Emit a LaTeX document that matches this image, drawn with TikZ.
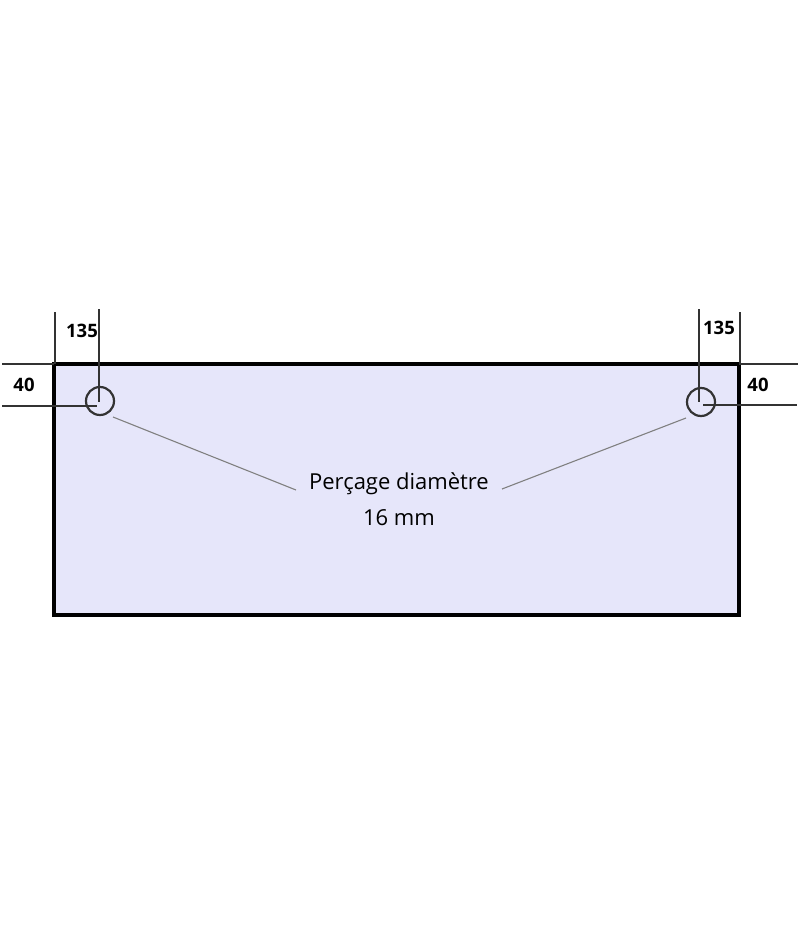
\documentclass[tikz,border=0pt]{standalone}
\usepackage{fontspec}
\setmainfont{Open Sans}
\begin{document}
\begin{tikzpicture}[x=1pt,y=-1pt,
  plate/.style={draw=black,line width=3.2pt,fill=lavfill},
  dimline/.style={draw=linegray,line width=2.2pt},
  hole/.style={draw=linegray,line width=2.2pt},
  leader/.style={draw=leadgray,line width=1.1pt},
  dimlabel/.style={font=\bfseries\fontsize{18.5}{20}\selectfont,text=black,inner sep=0pt},
  notelabel/.style={font=\fontsize{22}{36}\selectfont,text=black,align=center,inner sep=0pt}]
\definecolor{lavfill}{HTML}{E6E6FA}
\definecolor{linegray}{HTML}{333333}
\definecolor{leadgray}{HTML}{808080}
\useasboundingbox (0,0) rectangle (800,926);
\fill[white] (0,0) rectangle (800,926);
% plate
\draw[plate] (54,364) coordinate (pTL) rectangle (739,615) coordinate (pBR);
% holes
\draw[hole] (100,401) circle[radius=14];
\draw[hole] (701,402) circle[radius=14];
\coordinate (hL) at (100,401);
\coordinate (hR) at (701,402);
% left dimension lines
\coordinate (lv1) at (99,309); \coordinate (lv2) at (99,402);
\draw[dimline] (lv1) -- (lv2);
\coordinate (lh1) at (2,406); \coordinate (lh2) at (97,406);
\draw[dimline] (lh1) -- (lh2);
\coordinate (le1) at (55,312); \coordinate (le2) at (55,364);
\draw[dimline] (le1) -- (le2);
\coordinate (lt1) at (2,364); \coordinate (lt2) at (54,364);
\draw[dimline] (lt1) -- (lt2);
% right dimension lines
\coordinate (rv1) at (699,309); \coordinate (rv2) at (699,402);
\draw[dimline] (rv1) -- (rv2);
\coordinate (rh1) at (703,405); \coordinate (rh2) at (797,405);
\draw[dimline] (rh1) -- (rh2);
\coordinate (re1) at (740,312); \coordinate (re2) at (740,364);
\draw[dimline] (re1) -- (re2);
\coordinate (rt1) at (739,364); \coordinate (rt2) at (798,364);
\draw[dimline] (rt1) -- (rt2);
% labels
\node[dimlabel] (d135L) at (82,331) {135};
\node[dimlabel] (d40L) at (24,385) {40};
\node[dimlabel] (d135R) at (719,328) {135};
\node[dimlabel] (d40R) at (758,385) {40};
\node[notelabel] (note) at (399,499) {Perçage diamètre\\16 mm};
% leaders
\coordinate (ldL1) at (113,417); \coordinate (ldL2) at (296,490);
\coordinate (ldR1) at (686,418); \coordinate (ldR2) at (502,489);
\draw[leader] (ldL1) -- (ldL2);
\draw[leader] (ldR1) -- (ldR2);
\end{tikzpicture}
\end{document}
